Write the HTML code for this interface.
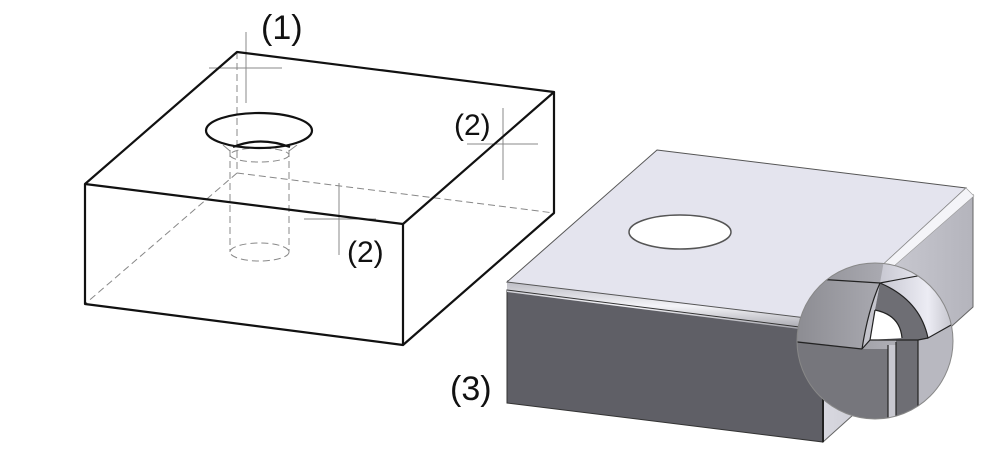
<!DOCTYPE html>
<html><head><meta charset="utf-8"><style>
html,body{margin:0;padding:0;background:#fff;}
svg{display:block}
text{font-family:"Liberation Sans",Arial,sans-serif;fill:#111}
</style></head><body>
<svg width="1000" height="452" viewBox="0 0 1000 452" xmlns="http://www.w3.org/2000/svg">
<defs>
<linearGradient id="fil" x1="0" y1="0" x2="0" y2="1">
<stop offset="0" stop-color="#b8b8c0"/><stop offset="0.5" stop-color="#f4f4f8"/><stop offset="1" stop-color="#9a9aa2"/>
</linearGradient>
<linearGradient id="rf" x1="0" y1="0" x2="1" y2="0">
<stop offset="0" stop-color="#d8d8e0"/><stop offset="1" stop-color="#b4b4bc"/>
</linearGradient>
<linearGradient id="mg" x1="0" y1="0" x2="1" y2="0">
<stop offset="0" stop-color="#8a8a90"/><stop offset="1" stop-color="#c4c4cc"/>
</linearGradient>
<linearGradient id="mr" x1="0" y1="0" x2="1" y2="0">
<stop offset="0" stop-color="#c8c8d2"/><stop offset="0.6" stop-color="#ececf4"/><stop offset="1" stop-color="#b8b8c0"/>
</linearGradient>
<clipPath id="cc"><circle cx="875" cy="341" r="78"/></clipPath>
</defs>

<!-- Left wireframe box -->
<g fill="none" stroke="#888" stroke-width="1" stroke-dasharray="7,4">
<line x1="237" y1="52" x2="237" y2="173"/>
<line x1="237" y1="173" x2="85" y2="304"/>
<line x1="237" y1="173" x2="554" y2="213"/>
<line x1="230" y1="150" x2="230" y2="252"/>
<line x1="289" y1="150" x2="289" y2="252"/>
<ellipse cx="259.5" cy="155" rx="29.5" ry="7"/>
<ellipse cx="259.5" cy="252" rx="29.5" ry="9"/>
</g>
<g stroke="#888" stroke-width="1">
<line x1="246" y1="32" x2="246" y2="103"/><line x1="209" y1="68" x2="282" y2="68"/>
<line x1="503" y1="108" x2="503" y2="180"/><line x1="467" y1="144" x2="538" y2="144"/>
<line x1="339" y1="183" x2="339" y2="255"/><line x1="304" y1="219" x2="376" y2="219"/>
<line x1="223" y1="145" x2="230" y2="151"/><line x1="297" y1="145" x2="289" y2="151"/>
</g>
<g fill="none" stroke="#111" stroke-width="2.2" stroke-linejoin="round">
<polygon points="237,52 554,92 403,224 85,184"/>
<polyline points="85,184 85,304 403,345 554,213 554,92"/>
<line x1="403" y1="224" x2="403" y2="345"/>
<ellipse cx="259" cy="130.5" rx="53" ry="17.5"/>
<path d="M233,147 Q260,136 290,147"/>
</g>
<text x="261" y="39" font-size="34">(1)</text>
<text x="454" y="135" font-size="30">(2)</text>
<text x="347" y="262" font-size="30">(2)</text>
<text x="450" y="400" font-size="34">(3)</text>

<!-- Right shaded box -->
<polygon points="823,328 973,195 973,307 823,442" fill="url(#rf)" stroke="#666" stroke-width="1"/>
<polygon points="507,290 823,330 823,442 507,403" fill="#5f5f66" stroke="#333" stroke-width="1"/>
<polygon points="507,280 823,320 823,332 507,292" fill="url(#fil)"/>
<line x1="507" y1="290" x2="823" y2="330" stroke="#333" stroke-width="1"/>
<polygon points="657,150 966,188 823,320 507,282" fill="#e4e4ee" stroke="#555" stroke-width="1"/>
<polygon points="966,188 974,196 829,323 823,320" fill="#f4f4f8" stroke="#999" stroke-width="0.6"/>
<ellipse cx="680" cy="232" rx="51" ry="17" fill="#fff" stroke="#555" stroke-width="1.5"/>
<line x1="823" y1="330" x2="823" y2="442" stroke="#222" stroke-width="2"/>

<!-- Magnifier -->
<g clip-path="url(#cc)">
<rect x="790" y="260" width="170" height="170" fill="url(#mg)"/>
<path d="M880,283 Q920,300 928,338 L960,320 L960,255 L885,255 Z" fill="url(#mr)"/>
<polygon points="928,338 960,320 960,430 918,430 918,340" fill="#b8b8c0"/>
<polygon points="790,340 862,349 888,349 888,430 790,430" fill="#76767c"/>
<rect x="888" y="345" width="8" height="90" fill="#c8c8d0"/>
<rect x="896" y="340" width="22" height="95" fill="#6e6e74"/>
<path d="M880,283 Q920,300 928,338 L918,340 L870,340 L875,310 Z" fill="#6e6e74"/>
<path d="M875,310 Q900,315 902,338 L870,340 Z" fill="#fff"/>
<path d="M880,283 Q868,310 862,349 L870,340 L875,310 Z" fill="#c4c4cc"/>
<g fill="none" stroke="#222" stroke-width="1.2">
<path d="M800,278 L880,283 L960,268"/>
<path d="M797,342 L862,349"/>
<path d="M880,283 Q868,310 862,349"/>
<path d="M880,283 Q920,300 928,338 L960,320"/>
<path d="M875,310 Q900,315 902,338"/>
<path d="M875,310 L870,340"/>
<path d="M862,349 L870,340 L918,340 L928,338"/>
<line x1="888" y1="345" x2="888" y2="430"/><line x1="896" y1="342" x2="896" y2="430"/><line x1="918" y1="340" x2="918" y2="430"/>
</g>
</g>
<circle cx="875" cy="341" r="78" fill="none" stroke="#888" stroke-width="1"/>
</svg>
</body></html>
